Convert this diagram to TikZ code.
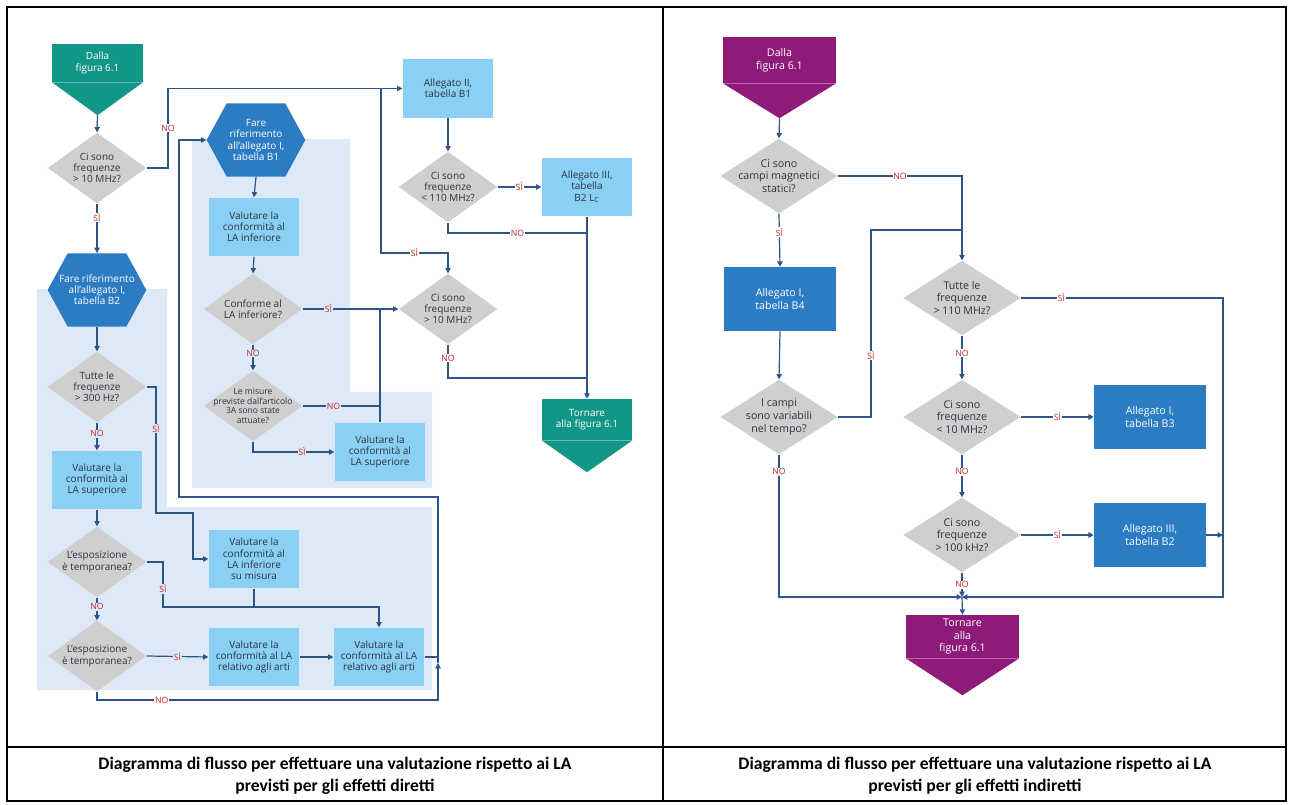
\documentclass[tikz,border=0pt]{standalone}
\usepackage{fontspec}
\setmainfont{Open Sans}
\newfontfamily\capfont{Carlito}
\usepackage{tikz}
\usetikzlibrary{arrows.meta,shapes.geometric}

\definecolor{tealc}{RGB}{18,150,136}
\definecolor{purpc}{RGB}{142,26,122}
\definecolor{dkblue}{RGB}{44,124,196}
\definecolor{ltblue}{RGB}{138,208,244}
\definecolor{grayd}{RGB}{207,207,207}
\definecolor{bgreg}{RGB}{222,233,248}
\definecolor{linec}{RGB}{45,85,135}
\definecolor{lblred}{RGB}{205,35,35}
\definecolor{txtdk}{RGB}{45,50,62}

\begin{document}
\begin{tikzpicture}[
x=0.75pt, y=-0.75pt,
font=\fontsize{7.5}{8.4}\selectfont,
startbox/.style={rectangle, text=white, align=center, inner sep=0pt},
hexa/.style={rectangle, minimum width=74pt, minimum height=55pt, inner sep=0pt, text=white, align=center,
  path picture={\fill[dkblue] (path picture bounding box.west)
    -- ([xshift=15pt]path picture bounding box.north west)
    -- ([xshift=-15pt]path picture bounding box.north east)
    -- (path picture bounding box.east)
    -- ([xshift=-15pt]path picture bounding box.south east)
    -- ([xshift=15pt]path picture bounding box.south west) -- cycle;}},
box/.style={rectangle, fill=ltblue, text=txtdk, align=center, minimum width=68pt, minimum height=44pt, inner sep=1pt},
dbox/.style={rectangle, fill=dkblue, text=white, align=center, minimum width=84pt, minimum height=48pt},
dec/.style={diamond, fill=grayd, text=txtdk, align=center, shape aspect=1.4, inner xsep=-16pt, inner ysep=-8pt, minimum width=74pt, minimum height=53pt},
decR/.style={dec, minimum width=88pt, minimum height=56pt},
arrow/.style={-{Triangle[length=4pt,width=4pt]}, linec, line width=0.9pt},
line/.style={linec, line width=0.9pt},
lbl/.style={text=lblred, fill=white, inner sep=0.5pt, font=\fontsize{6.5}{7}\selectfont},
lblb/.style={lbl, fill=bgreg},
caption/.style={font=\capfont\bfseries\fontsize{13.2}{16.5}\selectfont, align=center}
]
\useasboundingbox (0,0) rectangle (1292,805);
\fill[white] (0,0) rectangle (1292,805);

% light background zones
\fill[bgreg] (192,139) -- (350,139) -- (350,392) -- (432,392) -- (432,488) -- (192,488) -- cycle;
\fill[bgreg] (37,289) -- (167,289) -- (167,507) -- (432,507) -- (432,690) -- (37,690) -- cycle;

% effetti diretti
\node[startbox, fill=tealc, minimum width=68pt, minimum height=28.5pt] (dalla1) at (97.5,63) {Dalla\\figura 6.1};
\fill[tealc] (dalla1.south west) -- (dalla1.south east) -- ([yshift=-24.75pt]dalla1.south) -- cycle;
\coordinate (dalla1tip) at ([yshift=-24.75pt]dalla1.south);
\node[dec] (freq10) at (97,168) {Ci sono\\frequenze\\> 10 MHz?};
\node[hexa] (rifB2) at (97,290) {Fare riferimento\\all'allegato I,\\tabella B2};
\node[dec] (tutte300) at (97,387) {Tutte le\\frequenze\\> 300 Hz?};
\node[box] (supL) at (97,480) {Valutare la\\conformità al\\LA superiore};
\node[dec] (temp1) at (97,562) {L'esposizione\\è temporanea?};
\node[dec] (temp2) at (97,656) {L'esposizione\\è temporanea?};
\node[box] (infMis) at (254,559) {Valutare la\\conformità al\\LA inferiore\\su misura};
\node[box] (arti1) at (254,657) {Valutare la\\conformità al LA\\relativo agli arti};
\node[box] (arti2) at (379,657) {Valutare la\\conformità al LA\\relativo agli arti};
\node[hexa] (rifB1) at (256,140) {Fare\\riferimento\\all'allegato I,\\tabella B1};
\node[box] (infA) at (254,227) {Valutare la\\conformità al\\LA inferiore};
\node[dec] (conf) at (253,309) {Conforme al\\LA inferiore?};
\node[dec, font=\fontsize{6.4}{7.3}\selectfont] (misure) at (253,406) {Le misure\\previste dall'articolo\\3A sono state\\attuate?};
\node[box] (supA) at (380,452) {Valutare la\\conformità al\\LA superiore};
\node[box] (all2) at (448,88.5) {Allegato II,\\tabella B1};
\node[dec] (freq110) at (448,187) {Ci sono\\frequenze\\< 110 MHz?};
\node[box] (all3) at (587,187) {Allegato III,\\tabella\\B2 L\textsubscript{C}};
\node[dec] (freq10b) at (448,309) {Ci sono\\frequenze\\> 10 MHz?};
\node[startbox, fill=tealc, minimum width=68pt, minimum height=30.75pt] (torna1) at (587,419.5) {Tornare\\alla figura 6.1};
\fill[tealc] (torna1.south west) -- (torna1.south east) -- ([yshift=-24pt]torna1.south) -- cycle;

\draw[arrow] (dalla1tip) -- (freq10.north);
\draw[arrow] (freq10.east) -- (168,168) -- node[lbl]{NO} (168,88.5) -- (all2.west);
\coordinate (brA) at (381,88.5);
\draw[arrow] (brA) -- (381,253) -- node[lbl]{SÌ} (448,253) -- (freq10b.north);
\draw[arrow] (all2.south) -- (freq110.north);
\draw[arrow] (freq110.east) -- node[lbl]{SÌ} (all3.west);
\coordinate (jA) at (587,233);
\draw[line] (freq110.south) |- node[lbl, pos=0.75]{NO} (jA);
\draw[arrow] (all3.south) -- (torna1.north);
\coordinate (jB) at (587,378);
\draw[line] (freq10b.south) |- node[lbl, pos=0.2]{NO} (jB);
\draw[arrow] (rifB1.south) -- (infA.north);
\draw[arrow] (infA.south) -- (conf.north);
\draw[arrow] (conf.east) -- node[lblb, pos=0.27]{SÌ} (freq10b.west);
\coordinate (jC) at (380,309);
\draw[line] (supA.north) -- (jC);
\draw[arrow] (conf.south) -- node[lblb, pos=0.35]{NO} (misure.north);
\coordinate (jD) at (380,406);
\draw[line] (misure.east) -- node[lblb, pos=0.4]{NO} (jD);
\draw[arrow] (misure.south) |- node[lblb, pos=0.8]{SÌ} (supA.west);
\draw[arrow] (freq10.south) -- node[lbl, pos=0.28]{SÌ} (rifB2.north);
\draw[arrow] (rifB2.south) -- (tutte300.north);
\draw[arrow] (tutte300.east) -- (156,387) -- node[lblb, pos=0.33]{SÌ} (156,513) -- (193,513) |- (infMis.west);
\draw[arrow] (tutte300.south) -- node[lblb, pos=0.4]{NO} (supL.north);
\draw[arrow] (supL.south) -- (temp1.north);
\coordinate (jE) at (254,607);
\draw[arrow] (temp1.east) -- (163,562) -- node[lblb, pos=0.6]{SÌ} (163,607) -| (arti2.north);
\draw[line] (infMis.south) -- (jE);
\draw[arrow] (temp1.south) -- node[lblb, pos=0.4]{NO} (temp2.north);
\draw[arrow] (temp2.east) -- node[lblb]{SÌ} (arti1.west);
\draw[arrow] (arti1.east) -- (arti2.west);
\coordinate (jF) at (438,657);
\draw[line] (arti2.east) -- (jF);
\draw[arrow] (temp2.south) -- (97,700) -- node[lbl, pos=0.19]{NO} (438,700) -- (438,663);
\draw[arrow] (438,663) -- (438,497) -- (179,497) -- (179,140) -- (rifB1.west);

% effetti indiretti
\begin{scope}[font=\fontsize{8}{9.6}\selectfont]
\node[startbox, fill=purpc, minimum width=84.75pt, minimum height=34.5pt] (dalla2) at (779.5,60) {Dalla\\figura 6.1};
\fill[purpc] (dalla2.south west) -- (dalla2.south east) -- ([yshift=-26.25pt]dalla2.south) -- cycle;
\coordinate (dalla2tip) at ([yshift=-26.25pt]dalla2.south);
\node[decR] (statici) at (779,176) {Ci sono\\campi magnetici\\statici?};
\node[dbox] (allB4) at (780,299) {Allegato I,\\tabella B4};
\node[decR] (variab) at (779,417) {I campi\\sono variabili\\nel tempo?};
\node[decR] (tutte110) at (962,298) {Tutte le\\frequenze\\> 110 MHz?};
\node[decR] (meno10) at (962,417) {Ci sono\\frequenze\\< 10 MHz?};
\node[dbox] (allB3) at (1150,417) {Allegato I,\\tabella B3};
\node[decR] (piu100) at (962,535) {Ci sono\\frequenze\\> 100 kHz?};
\node[dbox] (allB2) at (1150,535) {Allegato III,\\tabella B2};
\node[startbox, fill=purpc, minimum width=84.75pt, minimum height=32.25pt] (torna2) at (962.5,636.5) {Tornare\\alla\\figura 6.1};
\fill[purpc] (torna2.south west) -- (torna2.south east) -- ([yshift=-27.75pt]torna2.south) -- cycle;
\end{scope}

\draw[arrow] (dalla2tip) -- (statici.north);
\draw[arrow] (statici.east) -| node[lbl, pos=0.25]{NO} (tutte110.north);
\coordinate (jG) at (962,230);
\draw[line] (variab.east) -- (871,417) -- node[lbl, pos=0.33]{SÌ} (871,230) -- (jG);
\draw[arrow] (statici.south) -- node[lbl, pos=0.35]{SÌ} (allB4.north);
\draw[arrow] (allB4.south) -- (variab.north);
\coordinate (jH) at (962,597);
\draw[arrow] (variab.south) -- node[lbl, pos=0.12]{NO} (779,597) -- (jH);
\draw[arrow] (tutte110.east) -- node[lbl, pos=0.2]{SÌ} (1223,298) -- (1223,597) -- (jH);
\draw[arrow] (tutte110.south) -- node[lbl, pos=0.4]{NO} (meno10.north);
\draw[arrow] (meno10.east) -- node[lbl]{SÌ} (allB3.west);
\draw[arrow] (meno10.south) -- node[lbl, pos=0.4]{NO} (piu100.north);
\draw[arrow] (piu100.east) -- node[lbl]{SÌ} (allB2.west);
\draw[arrow] (allB2.east) -- (1223,535);
\draw[arrow] (piu100.south) -- node[lbl]{NO} (jH);
\draw[arrow] (jH) -- (torna2.north);

% table frame and captions
\draw[line width=0.8pt] (7,7) rectangle (1286,801);
\draw[line width=0.8pt] (663,7) -- (663,801);
\draw[line width=0.8pt] (7,747) -- (1286,747);
\node[caption] (capDir) at (335,776) {Diagramma di flusso per effettuare una valutazione rispetto ai LA\\previsti per gli effetti diretti};
\node[caption] (capInd) at (975,776) {Diagramma di flusso per effettuare una valutazione rispetto ai LA\\previsti per gli effetti indiretti};
\end{tikzpicture}
\end{document}
